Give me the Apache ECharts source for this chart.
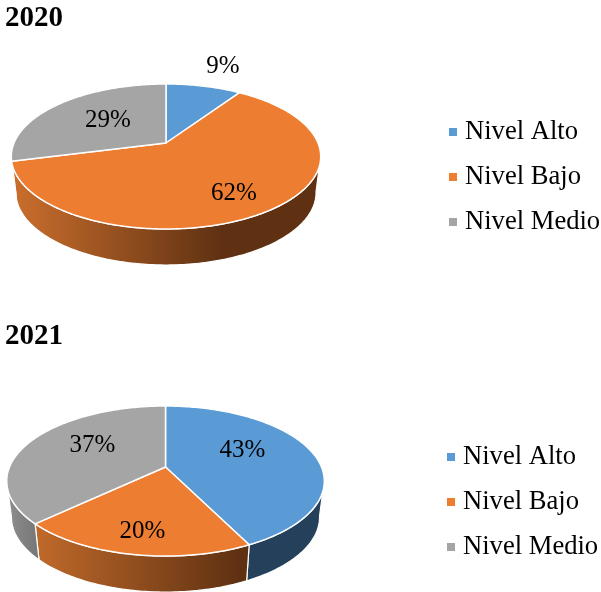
<!DOCTYPE html>
<html><head><meta charset="utf-8">
<style>html,body{margin:0;padding:0;background:#fff}#c{width:601px;height:592px}</style>
<script src="https://cdn.jsdelivr.net/npm/echarts@6/dist/echarts.min.js"></script>
</head><body><div id="c"></div>
<script>
const categories = ['Nivel Alto', 'Nivel Bajo', 'Nivel Medio'];
const years = ['2020', '2021'];
const values2020 = [9, 62, 29];
const values2021 = [43, 20, 37];

const FONT = '"Liberation Serif","Times New Roman",serif';
const colors = ['#5b9bd5', '#ed7d31', '#a5a5a5'];
const G = (stops) => new echarts.graphic.LinearGradient(0, 0, 1, 0, stops.map((c) => ({offset: c[0], color: c[1]})));
const wallOrange2020 = () => G([[0, '#cb6f2d'], [0.68, '#5f3112'], [1, '#5f3112']]);
const wallOrange2021 = () => G([[0, '#c06a2a'], [0.95, '#5f3112'], [1, '#5f3112']]);
const wallBlue = () => '#24405a';
const wallGray = () => G([[0, '#8f8f8f'], [1, '#757575']]);

// Layout of each tilted pie: apex, horizontal/vertical radii, perspective, wall depth
const layouts = [
  {values: values2020, cx: 166, cy: 143, R: 152, S: 70, k: 0.186, depth: 36,
   walls: [wallBlue, wallOrange2020, wallGray],
   labelOffset: [[57, -77], [68, 50], [-58, -23]]},
  {values: values2021, cx: 165.5, cy: 467, R: 156, S: 72.4, k: 0.187, depth: 36,
   walls: [wallBlue, wallOrange2021, wallGray],
   labelOffset: [[77, -17], [-23, 64], [-73, -22]]}
];
const SKEW = 0.03;       // the right half of the view is slightly stretched
const BASE_SCALE = 0.97; // the lower rim is narrower than the upper rim

function project(p, theta, dy, sx) {
  const t = theta < Math.PI ? theta + SKEW * Math.sin(2 * theta) : theta;
  const w = 1 + p.k * Math.cos(t);
  return [p.cx + sx * p.R * Math.sin(t) / w, p.cy + dy - p.S * Math.cos(t) / w];
}
function arc(p, a, b, dy, sx) {
  const pts = [], n = Math.max(2, Math.ceil(Math.abs(b - a) * 60));
  for (let i = 0; i <= n; i++) pts.push(project(p, a + (b - a) * i / n, dy, sx));
  return pts;
}
function makeSeries(p, i) {
  const start = p.values.slice(0, i).reduce((s, v) => s + v, 0);
  return {
    type: 'custom',
    name: categories[i],
    coordinateSystem: 'none',
    itemStyle: {color: colors[i]},
    animation: false,
    silent: true,
    data: [[p.values[i], start]],
    renderItem: function (params, api) {
      const v = api.value(0), s = api.value(1);
      const a = s / 100 * 2 * Math.PI, b = (s + v) / 100 * 2 * Math.PI;
      const children = [];
      const lo = Math.acos(-p.k), hi = 2 * Math.PI - lo;
      const wa = Math.max(a, lo), wb = Math.min(b, hi);
      if (wb > wa) {
        const top = arc(p, wa, wb, 0, 1), bot = arc(p, wb, wa, p.depth, BASE_SCALE);
        children.push({type: 'polygon', shape: {points: top.concat(bot)}, z2: 1,
          style: {fill: p.walls[i](), stroke: '#fff', lineWidth: 1.2}});
      }
      const face = [[p.cx, p.cy]].concat(arc(p, a, b, 0, 1));
      children.push({type: 'polygon', shape: {points: face}, z2: 2,
        style: {fill: colors[i], stroke: '#fff', lineWidth: 1.5, lineJoin: 'round'}});
      children.push({type: 'text', z2: 10, style: {
        x: p.cx + p.labelOffset[i][0], y: p.cy + p.labelOffset[i][1],
        text: v + '%', fill: '#000', font: '25px ' + FONT,
        align: 'center', verticalAlign: 'middle'}});
      return {type: 'group', children: children};
    }
  };
}
const series = [];
layouts.forEach(p => categories.forEach((c, i) => series.push(makeSeries(p, i))));

const legendBase = {
  orient: 'vertical', icon: 'rect', itemWidth: 8, itemHeight: 8, itemGap: 15,
  selectedMode: false, data: categories, padding: 0,
  textStyle: {fontFamily: FONT, fontSize: 26.6, color: '#000', lineHeight: 30, padding: [0, 0, 0, 3]}
};
const chart = echarts.init(document.getElementById('c'), null, {renderer: 'canvas'});
const titleStyle = {fontFamily: FONT, fontSize: 29, fontWeight: 'bold', color: '#000'};
chart.setOption({
  backgroundColor: '#fff',
  animation: false,
  title: [
    {text: years[0], left: 5, top: 4, padding: 0, textStyle: titleStyle},
    {text: years[1], left: 5, top: 322, padding: 0, textStyle: titleStyle}
  ],
  legend: [
    Object.assign({left: 449, top: 117}, legendBase),
    Object.assign({left: 447, top: 442}, legendBase)
  ],
  series: series
});
</script></body></html>
